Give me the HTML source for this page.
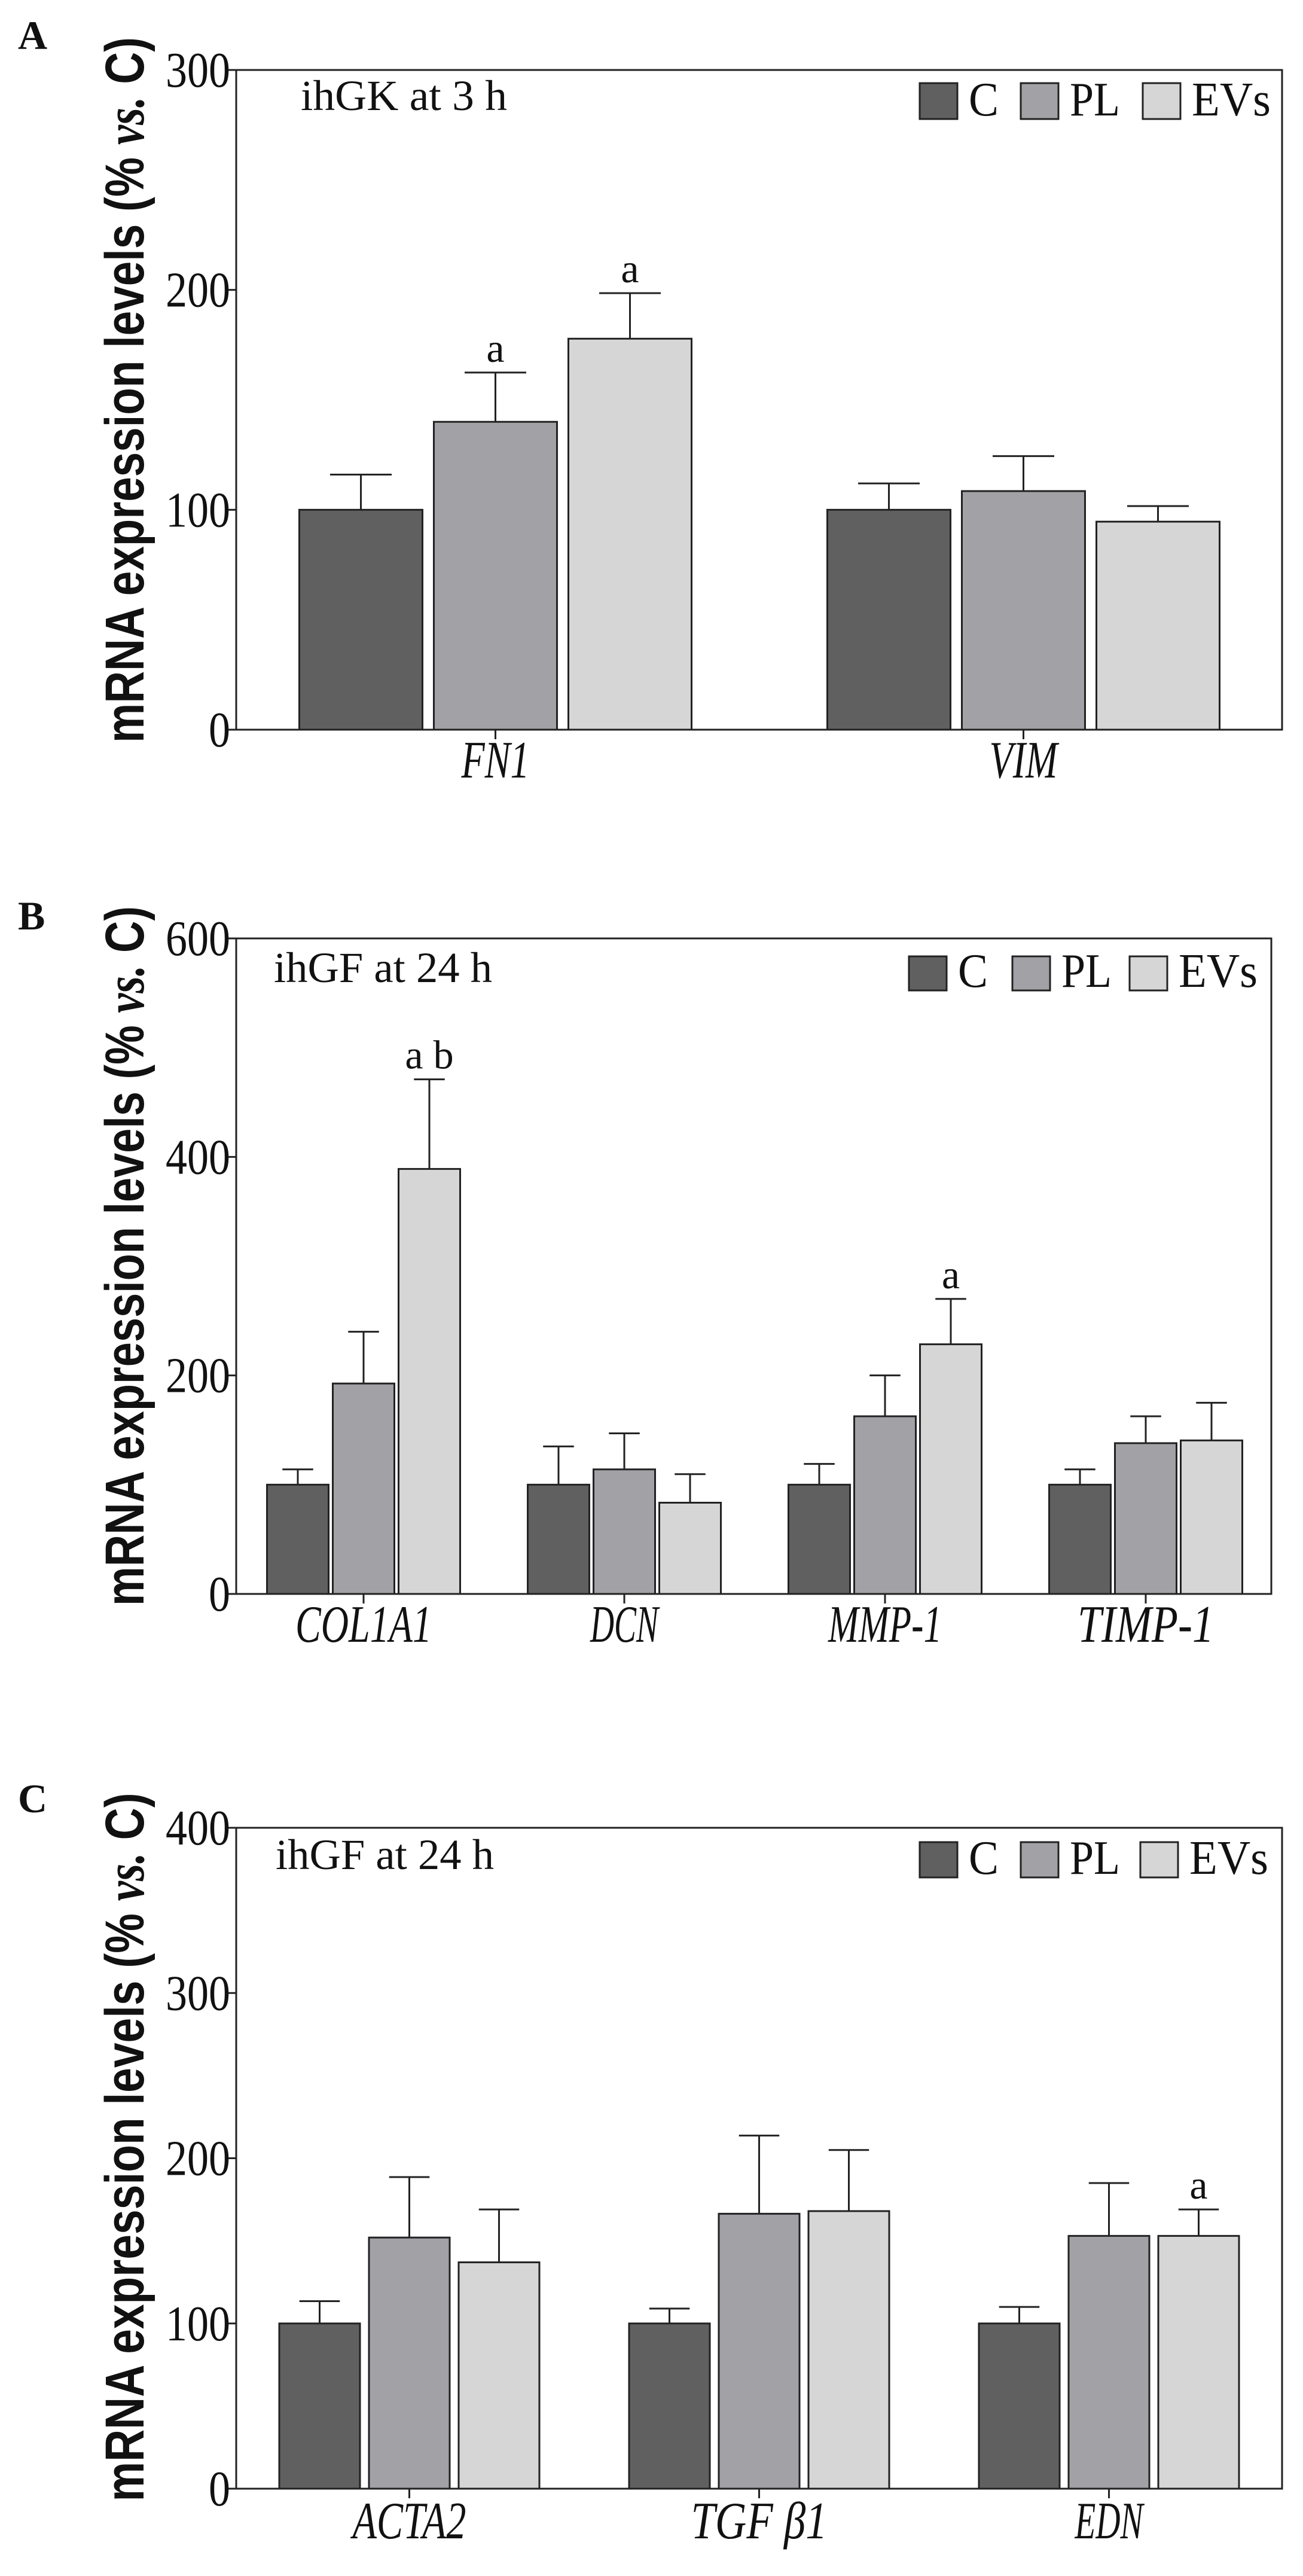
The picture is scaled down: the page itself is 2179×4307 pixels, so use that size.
<!DOCTYPE html>
<html><head><meta charset="utf-8">
<style>
html,body{margin:0;padding:0;background:#fff;}
svg{display:block;}
text{font-family:"Liberation Serif",serif;fill:#111;}
</style></head>
<body>
<svg id="chart" width="2179" height="4307" viewBox="0 0 2179 4307" xmlns="http://www.w3.org/2000/svg"></svg>
<script>
// Panel A data
const catsA = ["FN1","VIM"];
const cA = [100,100];
const cErrA = [116,112];
const plA = [140,108.5];
const plErrA = [162.4,124.4];
const evA = [177.8,94.6];
const evErrA = [198.5,101.7];
const annA = [["","a","a"],["","",""]];
const ticksA = [0,100,200,300];
// Panel B data
const catsB = ["COL1A1","DCN","MMP-1","TIMP-1"];
const cB = [100,100,100,100];
const cErrB = [114,135,119,114];
const plB = [192.6,114,162.6,138];
const plErrB = [240,147,200,162.6];
const evB = [389,83.5,228.5,140.5];
const evErrB = [471,109.6,270,175];
const annB = [["","","a b"],["","",""],["","","a"],["","",""]];
const ticksB = [0,200,400,600];
// Panel C data
const catsC = ["ACTA2","TGF β1","EDN"];
const cC = [100,100,100];
const cErrC = [113.5,109,110];
const plC = [152,166.4,153];
const plErrC = [188.6,213.7,185];
const evC = [137,168,153];
const evErrC = [169,205,169];
const annC = [["","",""],["","",""],["","","a"]];
const ticksC = [0,100,200,300,400];
const seriesNames = ["C","PL","EVs"];

const NS="http://www.w3.org/2000/svg";
const svg=document.getElementById('chart');
const colors=["#606060","#a2a1a6","#d6d6d6"];
function mk(tag,attrs,parent){const e=document.createElementNS(NS,tag);for(const k in attrs)e.setAttribute(k,attrs[k]);(parent||svg).appendChild(e);return e;}

function panel(o){
  const g=mk('g',{});
  
  
  const yMax=o.ticks[o.ticks.length-1];
  const y=v=>o.y0-(v/yMax)*(o.y0-o.yTop);
  const x=i=>o.x0+o.groupStep*(i+0.5)+o.groupOffset;
  const fr=mk('rect',{x:o.left,y:o.yTop,width:o.right-o.left,height:o.y0-o.yTop,fill:'none',stroke:'#222','stroke-width':3},g);
  
  
  o.ticks.forEach(t=>{
    mk('line',{x1:o.left-16,x2:o.left,y1:y(t),y2:y(t),stroke:'#222','stroke-width':3},g);
    const tl=mk('text',{x:o.left-10,y:y(t)+28,'text-anchor':'end','font-size':84,textLength:(''+t).length*36,lengthAdjust:'spacingAndGlyphs'},g);
    tl.textContent=t;
    
    
  });
  const yt=mk('text',{transform:`translate(${o.titleX},${o.titleY}) rotate(-90)`,'text-anchor':'middle','font-size':92,'font-weight':'bold',textLength:o.titleLen,lengthAdjust:'spacingAndGlyphs',style:'font-family:"Liberation Sans",sans-serif'},g);
  yt.innerHTML='mRNA expression levels (% <tspan font-style="italic" font-family="Liberation Serif">vs.</tspan> C)';
  
  
  const pl=mk('text',{x:30,y:o.letterY,'font-size':68,'font-weight':'bold'},g);
  pl.textContent=o.letter;
  
  
  const il=mk('text',{x:o.labelX,y:o.labelY,'font-size':72,textLength:o.labelLen,lengthAdjust:'spacingAndGlyphs'},g);
  il.textContent=o.label;
  
  
  o.legX.forEach((lx,k)=>{
    const lg=mk('g',{},g);
    
    
    mk('rect',{x:lx,y:o.legY,width:63,height:o.legH,fill:colors[k],stroke:'#222','stroke-width':3},lg);
    const lt=mk('text',{x:lx+82,y:o.legY+o.legH-6,'font-size':80,textLength:[50,84,132][k],lengthAdjust:'spacingAndGlyphs'},lg);
    lt.textContent=seriesNames[k];
  });
  const vals=[o.c,o.pl,o.ev], errs=[o.cErr,o.plErr,o.evErr];
  o.cats.forEach((cat,i)=>{
    const cx=x(i);
    mk('line',{x1:cx,x2:cx,y1:o.y0,y2:o.y0+16,stroke:'#222','stroke-width':3},g);
    const xl=mk('text',{x:cx,y:o.xLabelY,'text-anchor':'middle','font-size':88,'font-style':'italic',textLength:cat.length*38,lengthAdjust:'spacingAndGlyphs'},g);
    xl.textContent=cat;
    
    
    for(let k=0;k<3;k++){
      const bx=cx+(k-1)*o.barStep-o.barW/2;
      const err=mk('path',{d:`M${bx+o.barW/2},${y(vals[k][i])}V${y(errs[k][i])}M${bx+o.barW/4},${y(errs[k][i])}H${bx+o.barW*3/4}`,stroke:'#222','stroke-width':3,fill:'none'},g);
      
      
      const b=mk('rect',{x:bx,y:y(vals[k][i]),width:o.barW,height:o.y0-y(vals[k][i]),fill:colors[k],stroke:'#222','stroke-width':3},g);
      
      
      const a=o.ann[i][k];
      if(a){
        const at=mk('text',{x:bx+o.barW/2,y:y(errs[k][i])-18,'text-anchor':'middle','font-size':68},g);
        at.textContent=a;
        
        
      }
    }
  });
  mk('line',{x1:o.left,x2:o.right,y1:o.y0,y2:o.y0,stroke:'#222','stroke-width':3},g);
}

panel({letter:'A',letterY:82,cats:catsA,c:cA,cErr:cErrA,pl:plA,plErr:plErrA,ev:evA,evErr:evErrA,ann:annA,ticks:ticksA,
  left:395,right:2144,yTop:117,y0:1220,x0:395,groupStep:883,groupOffset:-8,barW:206,barStep:225,
  titleX:240,titleY:652,titleLen:1180,label:'ihGK at 3 h',labelX:503,labelY:184,labelLen:345,
  legX:[1538,1707,1911],legY:139,legH:60,xLabelY:1300});
panel({letter:'B',letterY:1554,cats:catsB,c:cB,cErr:cErrB,pl:plB,plErr:plErrB,ev:evB,evErr:evErrB,ann:annB,ticks:ticksB,
  left:395,right:2126,yTop:1569,y0:2665,x0:395,groupStep:436,groupOffset:-5,barW:103,barStep:110,
  titleX:240,titleY:2100,titleLen:1170,label:'ihGF at 24 h',labelX:458,labelY:1642,labelLen:365,
  legX:[1520,1693,1889],legY:1599,legH:57,xLabelY:2745});
panel({letter:'C',letterY:3030,cats:catsC,c:cC,cErr:cErrC,pl:plC,plErr:plErrC,ev:evC,evErr:evErrC,ann:annC,ticks:ticksC,
  left:395,right:2144,yTop:3056,y0:4161,x0:395,groupStep:585,groupOffset:-3,barW:135,barStep:150,
  titleX:240,titleY:3590,titleLen:1185,label:'ihGF at 24 h',labelX:461,labelY:3125,labelLen:365,
  legX:[1538,1707,1907],legY:3080,legH:59,xLabelY:4244});
</script>
</body></html>
